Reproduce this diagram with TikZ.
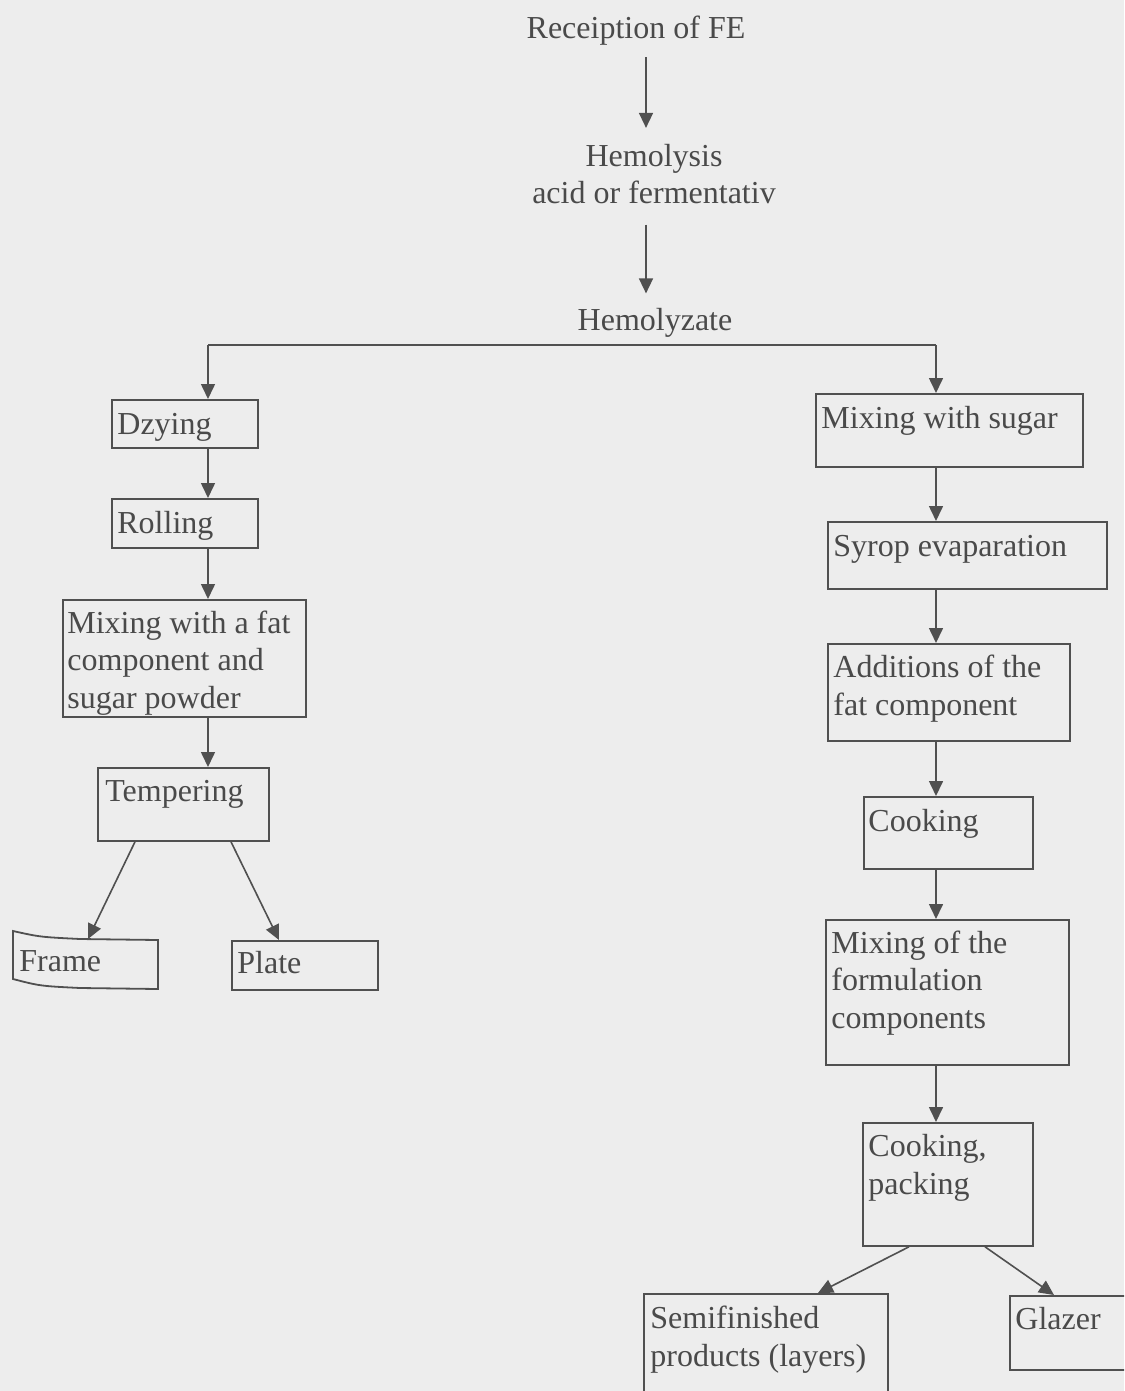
\documentclass[tikz,border=0pt]{standalone}
\usepackage{fontspec}
\setmainfont{Liberation Serif}
\usetikzlibrary{arrows.meta,calc}
\definecolor{bg}{HTML}{EDEDED}
\definecolor{ink}{HTML}{4A4A4A}
\definecolor{ln}{HTML}{505050}
\tikzset{
  box/.style={draw=ln,line width=0.9pt,inner sep=0pt,anchor=north west},
  txt/.style={text=ink,inner sep=0pt,anchor=base west,align=left,font=\fontsize{16}{18.75}\selectfont},
  ctxt/.style={text=ink,inner sep=0pt,anchor=base,align=center,font=\fontsize{16}{18.75}\selectfont},
  arr/.style={draw=ln,line width=0.8pt,-{Triangle[length=7.5pt,width=7pt]}},
  ln/.style={draw=ln,line width=0.8pt}
}
\begin{document}
\begin{tikzpicture}[x=0.5pt,y=-0.5pt]
\fill[bg] (0,0) rectangle (1124,1391);
\useasboundingbox (0,0) rectangle (1124,1391);
\clip (0,0) rectangle (1124,1391);
% column coordinates
\coordinate (tc) at (646,0);
\coordinate (lc) at (208,0);
\coordinate (rc) at (936,0);
% top texts (anchor = baseline of last line)
\node[ctxt] (rec) at (636,39) {Receiption of FE};
\node[ctxt] (hem) at (654,204) {Hemolysis\\acid or fermentativ};
\node[ctxt] (hz) at (655,330) {Hemolyzate};
\draw[arr] (rec.south -| tc) ++(0,11) coordinate (a1) -- ($(hem.north -| tc)+(0,-16)$);
\draw[arr] ($(hem.south -| tc)+(0,20)$) -- ($(hz.north -| tc)+(0,-14)$);
% branch line
\coordinate (bl) at (208,345);
\coordinate (brr) at (936,345);
\draw[ln] (bl) -- (brr);
% left column boxes
\node[box,minimum width=73pt,minimum height=24pt] (dz) at (111,399) {};
\node[txt] (dzt) at (117,434) {Dzying};
\node[box,minimum width=73pt,minimum height=24.5pt] (ro) at (111,498) {};
\node[txt] (rot) at (117,533) {Rolling};
\node[box,minimum width=121.5pt,minimum height=58.5pt] (mf) at (62,599) {};
\node[txt] (mft) at (67,708) {Mixing with a fat\\component and\\sugar powder};
\node[box,minimum width=85.5pt,minimum height=36.5pt] (te) at (97,767) {};
\node[txt] (tet) at (105,801) {Tempering};
\draw[draw=ln,line width=0.9pt] (13,931) .. controls (40,937) .. (80,939) -- (158,940) -- (158,989) -- (80,988) .. controls (40,986) .. (13,979) -- cycle;
\coordinate (frtop) at (88,939);
\node[txt] (frt) at (19,971) {Frame};
\node[box,minimum width=73pt,minimum height=24.5pt] (pl) at (231,940) {};
\node[txt] (plt) at (237,973) {Plate};
% left arrows
\draw[arr] (bl) -- (dz.north -| bl);
\draw[arr] (dz.south -| lc) -- (ro.north -| lc);
\draw[arr] (ro.south -| lc) -- (mf.north -| lc);
\draw[arr] (mf.south -| lc) -- (te.north -| lc);
\draw[arr] ([xshift=19pt]te.south west) -- (frtop);
\draw[arr] ([xshift=67pt]te.south west) -- ([xshift=24pt]pl.north west);
% right column boxes
\node[box,minimum width=133.5pt,minimum height=36.5pt] (ms) at (815,393) {};
\node[txt] (mst) at (821,428) {Mixing with sugar};
\node[box,minimum width=139.5pt,minimum height=33.5pt] (se) at (827,521) {};
\node[txt] (set) at (833,556) {Syrop evaparation};
\node[box,minimum width=121pt,minimum height=48.5pt] (af) at (827,643) {};
\node[txt] (aft) at (833,715) {Additions of the\\fat component};
\node[box,minimum width=84.5pt,minimum height=36pt] (co) at (863,796) {};
\node[txt] (cot) at (868,831) {Cooking};
\node[box,minimum width=121.5pt,minimum height=72.5pt] (mc) at (825,919) {};
\node[txt] (mct) at (831,1028) {Mixing of the\\formulation\\components};
\node[box,minimum width=85pt,minimum height=61.5pt] (cp) at (862,1122) {};
\node[txt] (cpt) at (868,1194) {Cooking,\\packing};
\node[box,minimum width=122pt,minimum height=55pt] (sf) at (643,1293) {};
\node[txt] (sft) at (650,1366) {Semifinished\\products (layers)};
\node[box,minimum width=65pt,minimum height=37pt] (gl) at (1009,1295) {};
\node[txt] (glt) at (1015,1329) {Glazer};
% right arrows
\draw[arr] (brr) -- (ms.north -| brr);
\draw[arr] (ms.south -| rc) -- (se.north -| rc);
\draw[arr] (se.south -| rc) -- (af.north -| rc);
\draw[arr] (af.south -| rc) -- (co.north -| rc);
\draw[arr] (co.south -| rc) -- (mc.north -| rc);
\draw[arr] (mc.south -| rc) -- (cp.north -| rc);
\draw[arr] ([xshift=23.5pt]cp.south west) -- ([xshift=87.5pt]sf.north west);
\draw[arr] ([xshift=61.5pt]cp.south west) -- ([xshift=22.5pt]gl.north west);
\end{tikzpicture}
\end{document}
